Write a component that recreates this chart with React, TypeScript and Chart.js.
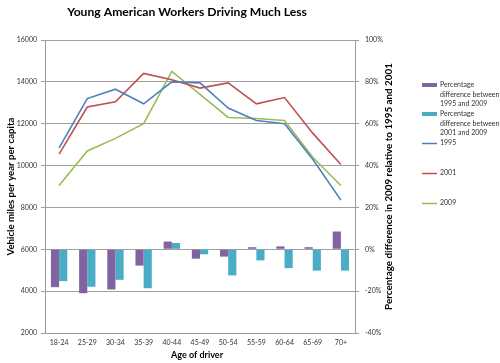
import React, { useEffect, useRef } from 'react';
import { Chart, registerables } from 'chart.js';

Chart.register(...registerables);

const AGE_GROUPS = ['18-24', '25-29', '30-34', '35-39', '40-44', '45-49', '50-54', '55-59', '60-64', '65-69', '70+'];
const MILES_1995 = [10850, 13200, 13650, 12950, 14000, 13950, 12750, 12150, 12000, 10300, 8350];
const MILES_2001 = [10550, 12800, 13050, 14400, 14100, 13700, 13950, 12950, 13250, 11550, 10050];
const MILES_2009 = [9050, 10700, 11300, 12000, 14500, 13400, 12300, 12250, 12150, 10400, 9050];
const PCT_1995_2009 = [-18.1, -21.0, -19.2, -7.8, 3.7, -4.5, -3.5, 1.0, 1.4, 1.0, 8.5];
const PCT_2001_2009 = [-15.2, -17.9, -14.6, -18.6, 3.0, -2.4, -12.5, -5.3, -9.0, -10.2, -10.2];

const LEFT_TICKS_MIN = 2000;
const LEFT_TICKS_MAX = 16000;
const RIGHT_TICKS_MIN = -40;
const RIGHT_TICKS_MAX = 100;

const TITLE = 'Young American Workers Driving Much Less';
const LEFT_AXIS_TITLE = 'Vehicle miles per year per capita';
const RIGHT_AXIS_TITLE = 'Percentage difference in 2009 relative to 1995 and 2001';
const X_AXIS_TITLE = 'Age of driver';

const LABEL_1995_2009 = ['Percentage', 'difference between', '1995 and 2009'];
const LABEL_2001_2009 = ['Percentage', 'difference between', '2001 and 2009'];
const LABEL_1995 = '1995';
const LABEL_2001 = '2001';
const LABEL_2009 = '2009';

const PURPLE = '#8064A2';
const CYAN = '#4BACC6';
const BLUE = '#4F81BD';
const RED = '#C0504D';
const GREEN = '#9BBB59';

const FONT = 'Lato, "Open Sans", sans-serif';

function fitText(ctx: CanvasRenderingContext2D, text: string, width: number) {
  ctx.font = `bold 10px ${FONT}`;
  const w = ctx.measureText(text).width;
  const size = (10 * width) / w;
  ctx.font = `bold ${size.toFixed(2)}px ${FONT}`;
}

const decorPlugin = {
  id: 'decor',
  afterDraw(chart: any) {
    const ctx = chart.ctx as CanvasRenderingContext2D;
    const area = chart.chartArea;
    const midY = (area.top + area.bottom) / 2;
    ctx.save();
    ctx.fillStyle = '#000';
    ctx.textAlign = 'center';
    ctx.textBaseline = 'middle';

    // Title
    fitText(ctx, TITLE, 240);
    ctx.fillText(TITLE, 187, 12);

    // X axis title
    fitText(ctx, X_AXIS_TITLE, 52);
    ctx.fillText(X_AXIS_TITLE, 197, 355);

    // Left axis title
    ctx.save();
    ctx.translate(11, midY);
    ctx.rotate(-Math.PI / 2);
    fitText(ctx, LEFT_AXIS_TITLE, 138);
    ctx.fillText(LEFT_AXIS_TITLE, 0, 0);
    ctx.restore();

    // Right axis title
    ctx.save();
    ctx.translate(389, midY);
    ctx.rotate(-Math.PI / 2);
    fitText(ctx, RIGHT_AXIS_TITLE, 247);
    ctx.fillText(RIGHT_AXIS_TITLE, 0, 0);
    ctx.restore();

    // Legend
    const ys = [85, 114, 143, 173, 203];
    const lineH = 9.6;
    ctx.font = `7px ${FONT}`;
    ctx.textAlign = 'left';
    chart.data.datasets.forEach((ds: any, i: number) => {
      const y = ys[i];
      const lines: string[] = ds.legendLines || [ds.label];
      if (ds.type === 'bar') {
        ctx.fillStyle = ds.backgroundColor;
        ctx.fillRect(422, y - 2, 15, 4);
      } else {
        ctx.strokeStyle = ds.borderColor;
        ctx.lineWidth = 1.5;
        ctx.beginPath();
        ctx.moveTo(422, y + 0.5);
        ctx.lineTo(437, y + 0.5);
        ctx.stroke();
      }
      ctx.fillStyle = '#333';
      lines.forEach((t, k) => ctx.fillText(t, 440, y + k * lineH));
    });
    ctx.restore();
  },
};

export default function App() {
  const ref = useRef<HTMLCanvasElement | null>(null);

  useEffect(() => {
    document.body.style.margin = '0';
    if (!ref.current) return;
    const chart = new Chart(ref.current, {
      type: 'bar',
      data: {
        labels: AGE_GROUPS,
        datasets: [
          {
            type: 'bar',
            label: LABEL_1995_2009.join(' '),
            legendLines: LABEL_1995_2009,
            data: PCT_1995_2009,
            backgroundColor: PURPLE,
            yAxisID: 'y2',
            order: 2,
          } as any,
          {
            type: 'bar',
            label: LABEL_2001_2009.join(' '),
            legendLines: LABEL_2001_2009,
            data: PCT_2001_2009,
            backgroundColor: CYAN,
            yAxisID: 'y2',
            order: 2,
          } as any,
          {
            type: 'line',
            label: LABEL_1995,
            data: MILES_1995,
            borderColor: BLUE,
            backgroundColor: BLUE,
            borderWidth: 1.6,
            pointRadius: 0,
            tension: 0,
            yAxisID: 'y',
            order: 1,
          },
          {
            type: 'line',
            label: LABEL_2001,
            data: MILES_2001,
            borderColor: RED,
            backgroundColor: RED,
            borderWidth: 1.6,
            pointRadius: 0,
            tension: 0,
            yAxisID: 'y',
            order: 1,
          },
          {
            type: 'line',
            label: LABEL_2009,
            data: MILES_2009,
            borderColor: GREEN,
            backgroundColor: GREEN,
            borderWidth: 1.6,
            pointRadius: 0,
            tension: 0,
            yAxisID: 'y',
            order: 1,
          },
        ],
      },
      options: {
        animation: false,
        responsive: false,
        devicePixelRatio: 1,
        layout: { padding: { top: 40, left: 0, right: 0, bottom: 0 } },
        datasets: {
          bar: { barPercentage: 1, categoryPercentage: 0.58 },
        },
        plugins: {
          legend: { display: false },
          title: { display: false },
          tooltip: { enabled: false },
        },
        scales: {
          x: {
            grid: { display: false, drawTicks: false },
            border: { display: true, color: '#999' },
            ticks: { font: { family: FONT, size: 7 }, color: '#333', padding: 6, maxRotation: 0, autoSkip: false },
            afterFit: (s: any) => { s.height = 30; },
          },
          y: {
            position: 'left',
            min: LEFT_TICKS_MIN,
            max: LEFT_TICKS_MAX,
            ticks: {
              stepSize: 2000,
              font: { family: FONT, size: 7 },
              color: '#333',
              padding: 4,
              callback: (v: any) => String(v),
            },
            grid: { color: '#a0a0a0', tickLength: 4, lineWidth: 1 },
            border: { display: true, color: '#999' },
            afterFit: (s: any) => { s.width = 45; },
          },
          y2: {
            position: 'right',
            min: RIGHT_TICKS_MIN,
            max: RIGHT_TICKS_MAX,
            ticks: {
              stepSize: 20,
              font: { family: FONT, size: 7 },
              color: '#333',
              padding: 6,
              callback: (v: any) => `${v}%`,
            },
            grid: { drawOnChartArea: false, color: '#999', tickLength: 4 },
            border: { display: true, color: '#999' },
            afterFit: (s: any) => { s.width = 145; },
          },
        },
      } as any,
      plugins: [decorPlugin],
    });
    return () => chart.destroy();
  }, []);

  return (
    <div style={{ position: 'absolute', left: 0, top: 0, width: 500, height: 363, background: '#fff' }}>
      <canvas ref={ref} width={500} height={363} style={{ width: 500, height: 363 }} />
    </div>
  );
}
